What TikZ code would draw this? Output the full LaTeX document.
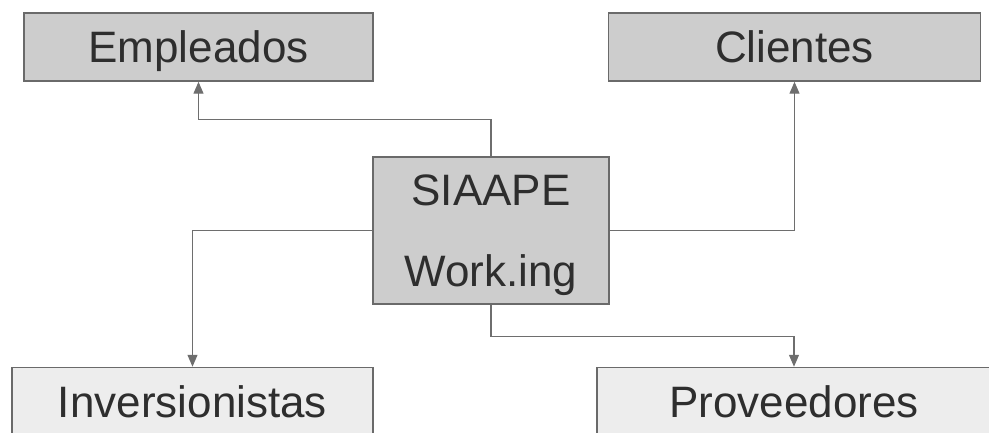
\documentclass[tikz,border=0pt]{standalone}
\usepackage{fontspec}
\setmainfont{Liberation Sans}
\usetikzlibrary{arrows.meta}
\definecolor{boxedge}{HTML}{6A6A6A}
\definecolor{darkfill}{HTML}{CDCDCD}
\definecolor{lightfill}{HTML}{EDEDED}
\definecolor{inktext}{HTML}{2E2E2E}
\definecolor{linkgray}{HTML}{6E6E6E}
\begin{document}
\begin{tikzpicture}[x=1pt,y=-1pt,
  entity/.style={draw=boxedge, line width=1.5pt, text=inktext,
    font=\fontsize{44}{50}\selectfont, inner sep=0pt,
    minimum height=68pt, text height=36pt, text depth=4pt},
  topbox/.style={entity, fill=darkfill},
  lowbox/.style={entity, fill=lightfill},
  caption/.style={text=inktext, font=\fontsize{44}{50}\selectfont,
    inner sep=0pt, anchor=base},
  link/.style={draw=linkgray, line width=1.2pt,
    -{Triangle[width=10pt,length=12pt]}}]
  \useasboundingbox (0,0) rectangle (989,433);
  \clip (0,0) rectangle (989,433);

  % outer entities
  \node[topbox, minimum width=349pt] (empleados) at (198.5,47) {Empleados};
  \node[topbox, minimum width=372pt] (clientes) at (794.5,47) {Clientes};
  \node[lowbox, minimum width=361pt] (inversionistas) at (192.5,401.5) {Inversionistas};
  \node[lowbox, minimum width=394pt] (proveedores) at (794,401.5) {Proveedores};

  % central system box with its two-line title
  \node[draw=boxedge, line width=1.5pt, fill=darkfill, inner sep=0pt,
    minimum width=236pt, minimum height=147pt] (siaape) at (491,230.5) {};
  \node[caption] (siaapeA) at (491,206) {SIAAPE};
  \node[caption] (siaapeB) at (491,287) {Work.ing};

  % connectors
  \draw[link] (siaape.north) -- ++(0,-37) -| (empleados.south);
  \draw[link] (siaape.east) -| (clientes.south);
  \draw[link] (siaape.west) -| (inversionistas.north);
  \draw[link] (siaape.south) -- ++(0,32) -| (proveedores.north);
\end{tikzpicture}
\end{document}
